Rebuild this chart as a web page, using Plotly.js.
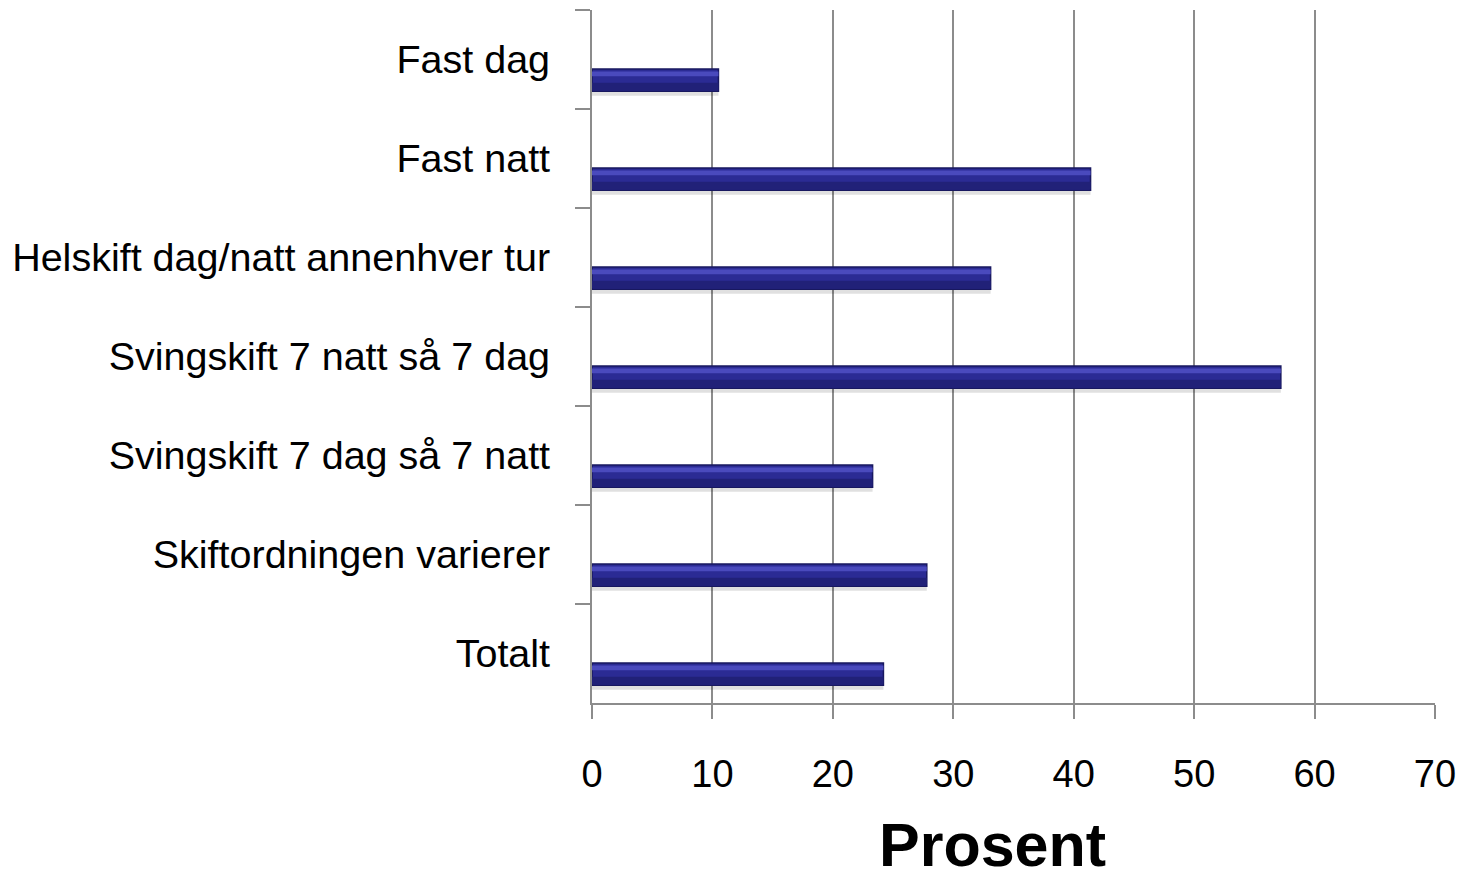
<!DOCTYPE html>
<html>
<head>
<meta charset="utf-8">
<script src="https://cdn.plot.ly/plotly-3.0.1.min.js"></script>
<style>html,body{margin:0;padding:0;background:#fff;}#chart{width:1460px;height:878px;}</style>
</head>
<body>
<div id="chart"></div>
<script>
const categories = ["Fast dag", "Fast natt", "Helskift dag/natt annenhver tur", "Svingskift 7 natt så 7 dag", "Svingskift 7 dag så 7 natt", "Skiftordningen varierer", "Totalt"];
const values = [10.5, 41.4, 33.1, 57.2, 23.3, 27.8, 24.2];
const xTicks = [0, 10, 20, 30, 40, 50, 60, 70];
const xTitle = "Prosent";

const yFont = {family: "Liberation Sans, Arial, sans-serif", size: 39.5, color: "#000"};
const xFont = {family: "Liberation Sans, Arial, sans-serif", size: 38, color: "#000"};

const shadow = {
  type: "bar", orientation: "h", x: values, y: categories,
  offset: 0.115, width: 0.25, hoverinfo: "skip",
  marker: {color: "rgba(0,0,0,0.12)", line: {width: 0}}
};
const main = {
  type: "bar", orientation: "h", x: values, y: categories,
  offset: 0.095, width: 0.225,
  marker: {color: "#2b2b94", line: {color: "#18185f", width: 1.5}}
};
const highlight = {
  type: "bar", orientation: "h", x: values, y: categories,
  offset: 0.12, width: 0.05, hoverinfo: "skip",
  marker: {color: "#4a4abd", line: {width: 0}}
};
const lowshade = {
  type: "bar", orientation: "h", x: values, y: categories,
  offset: 0.235, width: 0.075, hoverinfo: "skip",
  marker: {color: "#212178", line: {width: 0}}
};

const layout = {
  width: 1460, height: 878,
  margin: {l: 592, r: 25, t: 10, b: 175},
  paper_bgcolor: "#fff", plot_bgcolor: "#fff",
  showlegend: false, barmode: "overlay",
  xaxis: {
    range: [0, 70], tickvals: xTicks, ticktext: xTicks.map(String),
    showgrid: true, gridcolor: "#8c8c8c", gridwidth: 2,
    zeroline: false, showline: true, linecolor: "#8c8c8c", linewidth: 2,
    ticks: "outside", ticklen: 14, tickwidth: 2, tickcolor: "#8c8c8c",
    tickfont: xFont, ticklabelstandoff: 22
  },
  yaxis: {
    type: "category", autorange: "reversed",
    showgrid: false, zeroline: false, showline: true, linecolor: "#8c8c8c", linewidth: 2,
    ticks: "outside", ticklen: 15, tickwidth: 2, tickcolor: "#8c8c8c",
    tickson: "boundaries",
    tickfont: yFont, ticklabelstandoff: 32
  },
  annotations: [{
    text: "<b>" + xTitle + "</b>", xref: "paper", yref: "paper",
    x: 0.4745, y: -0.205, xanchor: "center", yanchor: "middle", showarrow: false,
    font: {family: "Liberation Sans, Arial, sans-serif", size: 61, color: "#000"}
  }]
};

Plotly.newPlot("chart", [shadow, main, highlight, lowshade], layout, {displayModeBar: false});
</script>
</body>
</html>
